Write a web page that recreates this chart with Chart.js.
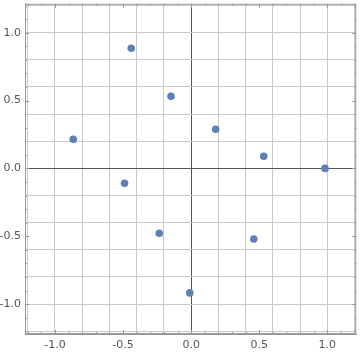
<!DOCTYPE html>
<html>
<head>
<meta charset="utf-8">
<script src="https://cdn.jsdelivr.net/npm/chart.js@4/dist/chart.umd.min.js"></script>
<style>
  html, body { margin: 0; padding: 0; background: #fff; }
  #wrap { width: 360px; height: 353px; }
</style>
</head>
<body>
<div id="wrap"><canvas id="scatter"></canvas></div>
<script>
// points
const xValues = [-0.44, -0.148, -0.866, 0.18, 0.533, 0.983, -0.489, -0.234, 0.46, -0.01];
const yValues = [0.885, 0.532, 0.215, 0.289, 0.09, 0.0, -0.11, -0.478, -0.52, -0.917];

// labelled ticks and minor tick / grid positions
const tickLabels = [-1.0, -0.5, 0.0, 0.5, 1.0];
const minorTicks = [-1.2, -1.1, -1.0, -0.9, -0.8, -0.7, -0.6, -0.5, -0.4, -0.3, -0.2, -0.1,
  0.0, 0.1, 0.2, 0.3, 0.4, 0.5, 0.6, 0.7, 0.8, 0.9, 1.0, 1.1, 1.2];
const gridLines = [-1.2, -1.0, -0.8, -0.6, -0.4, -0.2, 0.0, 0.2, 0.4, 0.6, 0.8, 1.0, 1.2];

const points = xValues.map((x, i) => ({ x: x, y: yValues[i] }));

const isLabel = v => tickLabels.some(t => Math.abs(t - v) < 1e-6);
const isGrid = v => gridLines.some(t => Math.abs(t - v) < 1e-6);

function gridColor(ctx) {
  const v = ctx.tick ? ctx.tick.value : null;
  if (v === null) return "rgba(0,0,0,0)";
  if (Math.abs(v) < 1e-6) return "#555555";
  if (isGrid(v)) return "#c9c9c9";
  return "rgba(0,0,0,0)";
}

function axisOptions(min, max) {
  return {
    type: "linear",
    min: min,
    max: max,
    afterBuildTicks: scale => {
      scale.ticks = minorTicks.map(v => ({ value: v }));
    },
    grid: {
      color: gridColor,
      lineWidth: 1,
      drawTicks: false,
    },
    border: { display: true, color: "#9a9a9a", width: 1 },
    ticks: {
      autoSkip: false,
      maxRotation: 0,
      color: "#555555",
      font: { family: "'DejaVu Sans', sans-serif", size: 11 },
      callback: v => (isLabel(v) ? v.toFixed(1) : ""),
    },
  };
}

// frame with inward ticks on all four sides
const framePlugin = {
  id: "frame",
  afterDraw(chart) {
    const { ctx, chartArea: a, scales } = chart;
    ctx.save();
    ctx.strokeStyle = "#9a9a9a";
    ctx.lineWidth = 1;
    ctx.strokeRect(a.left + 0.5, a.top + 0.5, a.right - a.left - 1, a.bottom - a.top - 1);
    ctx.beginPath();
    minorTicks.forEach(v => {
      const len = isLabel(v) ? 4 : 2;
      const px = Math.round(scales.x.getPixelForValue(v)) + 0.5;
      if (px > a.left && px < a.right) {
        ctx.moveTo(px, a.bottom); ctx.lineTo(px, a.bottom - len);
        ctx.moveTo(px, a.top); ctx.lineTo(px, a.top + len);
      }
      const py = Math.round(scales.y.getPixelForValue(v)) + 0.5;
      if (py > a.top && py < a.bottom) {
        ctx.moveTo(a.left, py); ctx.lineTo(a.left + len, py);
        ctx.moveTo(a.right, py); ctx.lineTo(a.right - len, py);
      }
    });
    ctx.stroke();
    ctx.restore();
  },
};

const xAxis = axisOptions(-1.22, 1.212);
xAxis.ticks.padding = 5;
xAxis.afterFit = scale => {
  scale.height = 19;
  scale.paddingLeft = 0;
  scale.paddingRight = 0;
};

const yAxis = axisOptions(-1.22, 1.213);
yAxis.ticks.padding = 4;
yAxis.afterFit = scale => {
  scale.width = 25;
  scale.paddingTop = 0;
  scale.paddingBottom = 0;
};

new Chart(document.getElementById("scatter"), {
  type: "scatter",
  data: {
    datasets: [
      {
        data: points,
        backgroundColor: "#5e81b5",
        borderColor: "#5e81b5",
        pointRadius: 3.8,
        pointHoverRadius: 3.8,
        borderWidth: 0,
      },
    ],
  },
  options: {
    responsive: true,
    maintainAspectRatio: false,
    animation: false,
    layout: { padding: { top: 2, right: 1, left: 0, bottom: 0 } },
    plugins: {
      legend: { display: false },
      tooltip: { enabled: false },
    },
    scales: { x: xAxis, y: yAxis },
  },
  plugins: [framePlugin],
});
</script>
</body>
</html>
